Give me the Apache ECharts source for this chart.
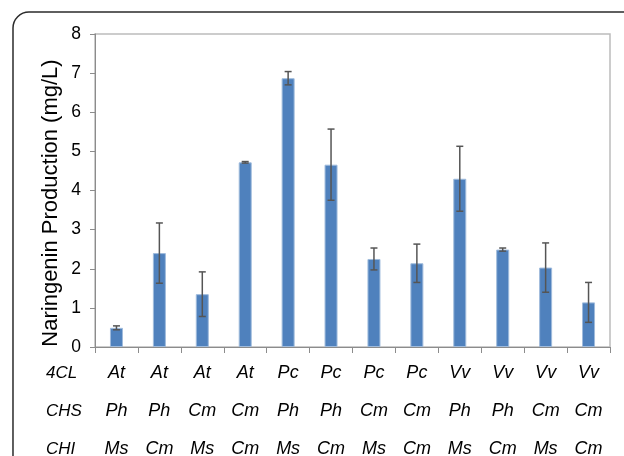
<!DOCTYPE html>
<html>
<head>
<meta charset="utf-8">
<script src="https://cdn.jsdelivr.net/npm/echarts@6/dist/echarts.min.js"></script>
<style>
  html, body { margin: 0; padding: 0; background: #fff; }
  #chart { width: 624px; height: 456px; }
</style>
</head>
<body>
<div id="chart"></div>
<script>
// Gene combinations for each strain (4CL / CHS / CHI source organisms)
const cl4 = ['At', 'At', 'At', 'At', 'Pc', 'Pc', 'Pc', 'Pc', 'Vv', 'Vv', 'Vv', 'Vv'];
const chs = ['Ph', 'Ph', 'Cm', 'Cm', 'Ph', 'Ph', 'Cm', 'Cm', 'Ph', 'Ph', 'Cm', 'Cm'];
const chi = ['Ms', 'Cm', 'Ms', 'Cm', 'Ms', 'Cm', 'Ms', 'Cm', 'Ms', 'Cm', 'Ms', 'Cm'];
const rowNames = ['4CL', 'CHS', 'CHI'];
const yTitle = 'Naringenin Production (mg/L)';

// Naringenin titres (mg/L) and standard deviations
const naringenin = [0.49, 2.40, 1.35, 4.72, 6.87, 4.66, 2.25, 2.14, 4.30, 2.49, 2.03, 1.14];
const stdDev     = [0.05, 0.77, 0.57, 0.02, 0.17, 0.91, 0.28, 0.49, 0.83, 0.04, 0.63, 0.51];

const yTicks = { min: 0, max: 8, interval: 1 };

const categories = cl4.map((_, i) => String(i));
const errorData = naringenin.map((v, i) => [i, v - stdDev[i], v + stdDev[i]]);

const chart = echarts.init(document.getElementById('chart'));
const fontFamily = '"Liberation Sans", Arial, sans-serif';
const rowY = [373, 411, 449];

chart.setOption({
  animation: false,
  backgroundColor: '#fff',
  textStyle: { fontFamily: fontFamily },
  grid: {
    left: 95, top: 34, width: 515, height: 313,
    outerBoundsMode: 'none',
    containLabel: false,
    show: true, borderColor: '#bcbcbc', borderWidth: 1.5, backgroundColor: 'transparent'
  },
  graphic: [
    {
      type: 'rect',
      shape: { x: 13, y: 12, width: 700, height: 600, r: 16 },
      style: { fill: 'none', stroke: '#2b2b2b', lineWidth: 1.5 },
      silent: true
    },
    {
      type: 'text',
      x: 51,
      y: 203,
      rotation: Math.PI / 2,
      style: {
        text: yTitle,
        font: '22px ' + fontFamily,
        fill: '#000',
        textAlign: 'center',
        textVerticalAlign: 'middle',
        verticalAlign: 'middle'
      }
    }
  ].concat(rowNames.map((name, k) => ({
    type: 'text',
    x: 46,
    y: rowY[k],
    style: {
      text: name,
      font: 'italic 17px ' + fontFamily,
      fill: '#000',
      textVerticalAlign: 'middle',
      verticalAlign: 'middle'
    }
  }))),
  xAxis: {
    type: 'category',
    data: categories,
    boundaryGap: true,
    axisLine: { show: true, lineStyle: { color: '#8c8c8c', width: 1 } },
    axisTick: { show: true, interval: 0, length: 6, lineStyle: { color: '#8c8c8c' } },
    axisLabel: {
      interval: 0,
      margin: 7,
      formatter: (val, idx) => [cl4[idx], chs[idx], chi[idx]].join('\n'),
      fontSize: 18,
      fontStyle: 'italic',
      lineHeight: 38,
      color: '#000'
    }
  },
  yAxis: {
    type: 'value',
    min: yTicks.min, max: yTicks.max, interval: yTicks.interval,
    axisLine: { show: true, lineStyle: { color: '#8c8c8c', width: 1 } },
    axisTick: { show: true, length: 5, lineStyle: { color: '#8c8c8c' } },
    splitLine: { show: false },
    axisLabel: { fontSize: 17.5, color: '#000', margin: 14 }
  },
  series: [
    {
      type: 'bar',
      data: naringenin,
      barWidth: 13,
      itemStyle: { color: '#4f81bd', borderColor: '#9fbbdc', borderWidth: 1 },
      z: 2
    },
    {
      type: 'custom',
      data: errorData,
      z: 3,
      renderItem: (params, api) => {
        const x = api.value(0);
        const lo = api.coord([x, api.value(1)]);
        const hi = api.coord([x, api.value(2)]);
        const cap = 3.5;
        const style = { stroke: '#555555', lineWidth: 1.5, fill: 'none' };
        return {
          type: 'group',
          children: [
            { type: 'line', shape: { x1: hi[0], y1: hi[1], x2: lo[0], y2: lo[1] }, style },
            { type: 'line', shape: { x1: hi[0] - cap, y1: hi[1], x2: hi[0] + cap, y2: hi[1] }, style },
            { type: 'line', shape: { x1: lo[0] - cap, y1: lo[1], x2: lo[0] + cap, y2: lo[1] }, style }
          ]
        };
      }
    }
  ]
});
</script>
</body>
</html>
